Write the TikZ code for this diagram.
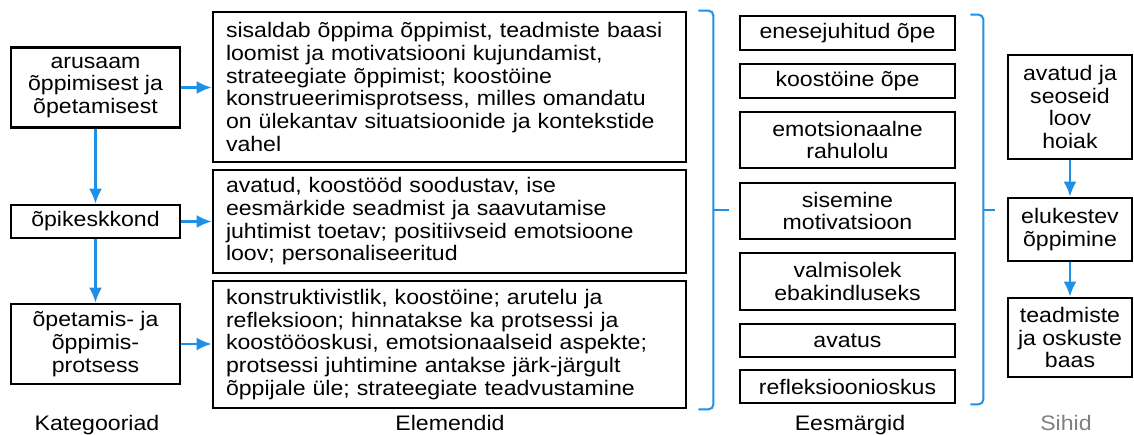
\documentclass[tikz,border=0pt]{standalone}
\usepackage{fontspec}
\setmainfont{Liberation Sans}[FakeStretch=1.1]
\usetikzlibrary{arrows.meta,calc}
\tikzset{>={Latex[length=15pt,width=13pt]}}
\definecolor{myblue}{RGB}{30,144,229}
\colorlet{mygray}{black!50}

\begin{document}
\begin{tikzpicture}[x=1pt,y=-1pt,
    box/.style={draw,line width=2.8pt,align=center,inner sep=0pt,
      font=\fontsize{21}{22.7}\selectfont},
    catbox/.style={box,minimum width=169pt},
    elbox/.style={box,align=left,text width=447pt,inner xsep=13pt},
    goalbox/.style={box,minimum width=215pt},
    aimbox/.style={box,minimum width=124pt},
    flow/.style={->,myblue,line width=2.2pt},
    brace/.style={myblue,line width=2pt,rounded corners=5pt},
    caption/.style={anchor=base,font=\fontsize{21}{22.7}\selectfont}
  ]
  \useasboundingbox (0,0) rectangle (1134,434);

  % KATEGOORIAD
  \node[catbox,minimum height=80pt] (cat1) at (95.5,87.5)
    {arusaam\\ õppimisest ja\\ õpetamisest};
  \node[catbox,minimum height=33pt] (cat2) at (95.5,221.5) {õpikeskkond};
  \node[catbox,minimum height=80pt] (cat3) at (95.5,344)
    {õpetamis- ja\\ õppimis-\\ protsess};

  % ELEMENDID
  \node[elbox,minimum height=150pt] (elA) at (449.5,87)
    {sisaldab õppima õppimist, teadmiste baasi\\ loomist ja motivatsiooni kujundamist,\\
     strateegiate õppimist; koostöine\\ konstrueerimisprotsess, milles omandatu\\
     on ülekantav situatsioonide ja kontekstide\\ vahel};
  \node[elbox,minimum height=103pt] (elB) at (449.5,221.5)
    {avatud, koostööd soodustav, ise\\ eesmärkide seadmist ja saavutamise\\
     juhtimist toetav; positiivseid emotsioone\\ loov; personaliseeritud};
  \node[elbox,minimum height=127pt] (elC) at (449.5,344.5)
    {konstruktivistlik, koostöine; arutelu ja\\ refleksioon; hinnatakse ka protsessi ja\\
     koostööoskusi, emotsionaalseid aspekte;\\ protsessi juhtimine antakse järk-järgult\\
     õppijale üle; strateegiate teadvustamine};

  % EESMÄRGID
  \node[goalbox,minimum height=34pt] (g1) at (847.5,33) {enesejuhitud õpe};
  \node[goalbox,minimum height=34pt] (g2) at (847.5,81) {koostöine õpe};
  \node[goalbox,minimum height=56pt] (g3) at (847.5,140) {emotsionaalne\\ rahulolu};
  \node[goalbox,minimum height=56pt] (g4) at (847.5,211) {sisemine\\ motivatsioon};
  \node[goalbox,minimum height=57pt] (g5) at (847.5,281.5) {valmisolek\\ ebakindluseks};
  \node[goalbox,minimum height=33pt] (g6) at (847.5,340.5) {avatus};
  \node[goalbox,minimum height=33pt] (g7) at (847.5,386.5) {refleksioonioskus};

  % SIHID
  \node[aimbox,minimum height=104pt] (s1) at (1070,107)
    {avatud ja\\ seoseid\\ loov\\ hoiak};
  \node[aimbox,minimum height=63pt] (s2) at (1070,229.5) {elukestev\\ õppimine};
  \node[aimbox,minimum height=79pt] (s3) at (1070,337.5)
    {teadmiste\\ ja oskuste\\ baas};

  % ARROWS
  \draw[flow] (cat1) -- (cat2);
  \draw[flow] (cat2) -- (cat3);
  \draw[flow] (cat1.east) -- (cat1.east -| elA.west);
  \draw[flow] (cat2.east) -- (cat2.east -| elB.west);
  \draw[flow] (cat3.east) -- (cat3.east -| elC.west);
  \draw[flow] (s1) -- (s2);
  \draw[flow] (s2) -- (s3);

  % BRACES
  \coordinate (b1top) at ($(elA.north east)+(26,0)$);
  \coordinate (b1bot) at ($(elC.south east)+(26,0)$);
  \draw[brace] ($(b1top)+(-15,0)$) -- (b1top) -- (b1bot) -- ($(b1bot)+(-15,0)$);
  \draw[brace] ($(b1top)!0.5!(b1bot)$) -- ++(16,0);
  \coordinate (b2top) at ($(g1.north east)+(27,0)$);
  \coordinate (b2bot) at ($(g7.south east)+(27,0)$);
  \draw[brace] ($(b2top)+(-13,0)$) -- (b2top) -- (b2bot) -- ($(b2bot)+(-13,0)$);
  \draw[brace] ($(b2top)!0.5!(b2bot)$) -- ++(12,0);

  % CAPTIONS
  \node[caption] (capcat) at (97,430) {Kategooriad};
  \node[caption] (capel) at (450,430) {Elemendid};
  \node[caption] (capgoal) at (850,430) {Eesmärgid};
  \node[caption,mygray] (capaim) at (1066,430) {Sihid};
\end{tikzpicture}
\end{document}
